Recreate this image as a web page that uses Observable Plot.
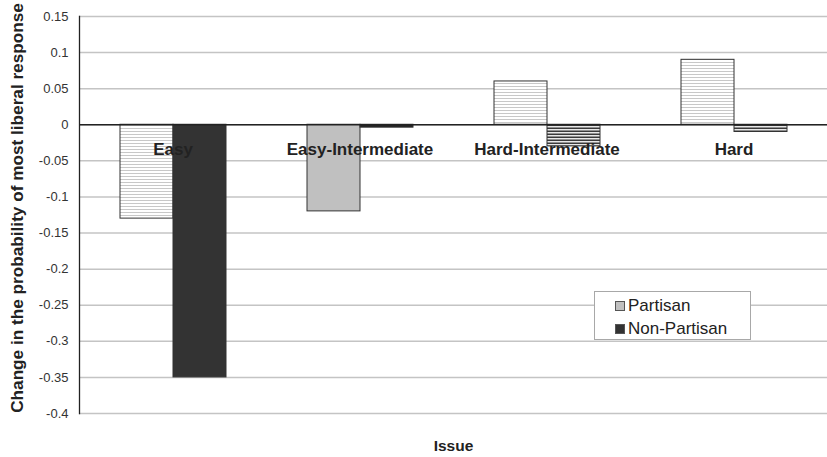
<!DOCTYPE html>
<html>
<head>
<meta charset="utf-8">
<script src="https://cdn.jsdelivr.net/npm/d3@7"></script>
<script src="https://cdn.jsdelivr.net/npm/@observablehq/plot@0.6"></script>
<style>
  html, body { margin: 0; padding: 0; background: #fff; }
  #wrap { position: relative; width: 827px; height: 457px; font-family: "Liberation Sans", Arial, sans-serif; }
  #legend { position: absolute; left: 594px; top: 291px; width: 157px; height: 49px; border: 1px solid #a8a8a8; background: #fff; box-sizing: border-box; font-size: 17px; color: #222; }
  #legend .item { position: absolute; left: 20px; display: flex; align-items: center; line-height: 1; }
  #legend .sw { width: 10px; height: 10px; border: 1px solid #555; box-sizing: border-box; margin-right: 3px; }
</style>
</head>
<body>
<div id="wrap">
  <div id="chart"></div>
  <div id="legend">
    <div class="item" style="top:5px"><span class="sw" style="background:#c0c0c0"></span><span>Partisan</span></div>
    <div class="item" style="top:28px"><span class="sw" style="background:#333"></span><span>Non-Partisan</span></div>
  </div>
</div>
<script>
// ---- data ----
const categories = ["Easy", "Easy-Intermediate", "Hard-Intermediate", "Hard"];
const series = ["Partisan", "Non-Partisan"];
const partisan = [-0.13, -0.12, 0.06, 0.09];
const nonPartisan = [-0.35, -0.004, -0.03, -0.01];
const yTicks = [0.15, 0.1, 0.05, 0, -0.05, -0.1, -0.15, -0.2, -0.25, -0.3, -0.35, -0.4];
const yTickLabels = ["0.15", "0.1", "0.05", "0", "-0.05", "-0.1", "-0.15", "-0.2", "-0.25", "-0.3", "-0.35", "-0.4"];
const yLabel = "Change in the probability of most liberal response";
const xLabel = "Issue";

// ---- styles (separate from data) ----
const fillFor = {
  "Easy|Partisan": "url(#stripeLight)",
  "Easy|Non-Partisan": "#333333",
  "Easy-Intermediate|Partisan": "#c0c0c0",
  "Easy-Intermediate|Non-Partisan": "#222222",
  "Hard-Intermediate|Partisan": "url(#stripeLight)",
  "Hard-Intermediate|Non-Partisan": "url(#stripeDark)",
  "Hard|Partisan": "url(#stripeLight)",
  "Hard|Non-Partisan": "url(#stripeDark)"
};

const rows = [];
categories.forEach((c, i) => {
  rows.push({category: c, series: series[0], value: partisan[i]});
  rows.push({category: c, series: series[1], value: nonPartisan[i]});
});

const chart = Plot.plot({
  width: 827,
  height: 457,
  marginLeft: 79,
  marginRight: 0,
  marginTop: 16,
  marginBottom: 44,
  style: {fontFamily: "'Liberation Sans', Arial, sans-serif", background: "#fff", color: "#333"},
  fx: {domain: categories, padding: 0, axis: null},
  x: {domain: series, paddingInner: 0, paddingOuter: 0.74, axis: null},
  y: {domain: [-0.4, 0.15]},
  color: {type: "identity"},
  marks: [
    Plot.ruleY(yTicks, {stroke: "#c4c4c4", strokeWidth: 1.5}),
    Plot.barY(rows, {
      fx: "category", x: "series", y: "value",
      fill: d => fillFor[d.category + "|" + d.series],
      stroke: "#333", strokeWidth: 1
    }),
    Plot.ruleY([0], {stroke: "#222", strokeWidth: 1.3}),
    Plot.frame({anchor: "left", facet: "super", stroke: "#222", strokeWidth: 1.3}),
    Plot.axisY({
      ticks: yTicks, tickSize: 0, tickPadding: 11, fontSize: 13,
      tickFormat: d => yTickLabels[yTicks.indexOf(d)], label: null, fill: "#333"
    }),
    Plot.text(categories, {
      fx: d => d, y: () => 0, text: d => d, dy: 25,
      fontSize: 17, fontWeight: "bold", fill: "#222"
    }),
    Plot.text([yLabel], {
      facet: "super", frameAnchor: "left", textAnchor: "middle", rotate: -90, dx: -62, dy: -7,
      fontSize: 17.2, fontWeight: "bold", fill: "#222"
    }),
    Plot.text([xLabel], {
      facet: "super", frameAnchor: "bottom", dy: 37,
      fontSize: 15.5, fontWeight: "bold", fill: "#222"
    })
  ]
});

// pattern fills
const svgNS = "http://www.w3.org/2000/svg";
const svgEl = chart.tagName.toLowerCase() === "svg" ? chart : chart.querySelector("svg");
const defs = document.createElementNS(svgNS, "defs");
defs.innerHTML = `
  <pattern id="stripeLight" patternUnits="userSpaceOnUse" width="6" height="3">
    <rect width="6" height="3" fill="#ffffff"/>
    <rect y="2" width="6" height="1" fill="#c8c8c8"/>
  </pattern>
  <pattern id="stripeDark" patternUnits="userSpaceOnUse" width="6" height="3">
    <rect width="6" height="3" fill="#e8e8e8"/>
    <rect y="1.5" width="6" height="1.5" fill="#3a3a3a"/>
  </pattern>`;
svgEl.insertBefore(defs, svgEl.firstChild);

document.getElementById("chart").appendChild(chart);
</script>
</body>
</html>
